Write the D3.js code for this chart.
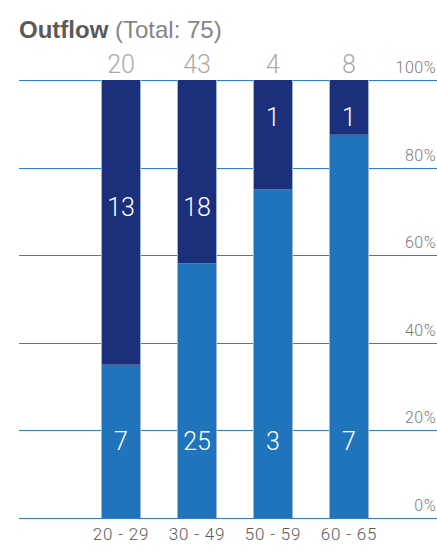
<!DOCTYPE html>
<html>
<head>
<meta charset="utf-8">
<script src="https://cdn.jsdelivr.net/npm/d3@7/dist/d3.min.js"></script>
<style>
  html, body { margin: 0; padding: 0; background: #fff; }
  svg { display: block; font-family: Roboto, "Liberation Sans", Arial, sans-serif; font-weight: 300; }
  .title { font-family: "Liberation Sans", Arial, sans-serif; }
</style>
</head>
<body>
<svg id="chart" width="437" height="546"></svg>
<script>
// Age groups and outflow counts per group
const categories = ["20 - 29", "30 - 49", "50 - 59", "60 - 65"];
const lowerValues = [7, 25, 3, 7];
const upperValues = [13, 18, 1, 1];
const totals = [20, 43, 4, 8];
const yTicks = [0, 0.2, 0.4, 0.6, 0.8, 1];
const titleBold = "Outflow";
const titleRest = " (Total: 75)";

const svg = d3.select("#chart");
const W = 437, H = 546;
const plotTop = 80, plotBottom = 518;

const x = d3.scaleBand().domain(categories).range([83, 387])
  .paddingInner(0.5).paddingOuter(0.25);
const y = d3.scaleLinear().domain([0, 1]).range([plotBottom, plotTop]);

const darkColor = "#1b2f7b";
const lightColor = "#1f74bc";
const gridColor = "#2f7fcb";

// Title
const title = svg.append("text").attr("class", "title").attr("x", 19).attr("y", 38)
  .style("font-size", "24px").attr("fill", "#5a5a5a");
title.append("tspan").style("font-weight", "bold").text(titleBold);
title.append("tspan").attr("fill", "#858585").style("font-weight", "normal").text(titleRest);

// Gridlines
svg.append("g").selectAll("line").data(yTicks).join("line")
  .attr("x1", 19).attr("x2", W)
  .attr("y1", d => Math.round(y(d)) + 0.5).attr("y2", d => Math.round(y(d)) + 0.5)
  .attr("stroke", gridColor).attr("stroke-width", 1);

// Percentage labels on the right
svg.append("g").selectAll("text").data(yTicks).join("text")
  .attr("x", 436).attr("y", d => y(d) - 7)
  .attr("text-anchor", "end").attr("font-size", 16).attr("fill", "#7a7a7a")
  .attr("letter-spacing", 0.5)
  .text(d => d3.format(".0%")(d));

const rows = categories.map((c, i) => {
  const total = lowerValues[i] + upperValues[i];
  return { c, low: lowerValues[i], up: upperValues[i], frac: lowerValues[i] / total, total: totals[i] };
});

const bars = svg.append("g");
// Lower segments
bars.selectAll("rect.low").data(rows).join("rect").attr("class", "low")
  .attr("x", d => x(d.c)).attr("width", x.bandwidth())
  .attr("y", d => y(d.frac)).attr("height", d => y(0) - y(d.frac))
  .attr("fill", lightColor);
// Upper segments
bars.selectAll("rect.up").data(rows).join("rect").attr("class", "up")
  .attr("x", d => x(d.c)).attr("width", x.bandwidth())
  .attr("y", y(1)).attr("height", d => y(d.frac) - y(1))
  .attr("fill", darkColor);
// Thin light edges on each bar
bars.selectAll("line.edge").data(rows.flatMap(d => [x(d.c) - 0.5, x(d.c) + x.bandwidth() + 0.5]))
  .join("line").attr("class", "edge")
  .attr("x1", d => d).attr("x2", d => d).attr("y1", y(1)).attr("y2", y(0))
  .attr("stroke", "#9fb3d9").attr("stroke-width", 1);

// Value labels inside bars
svg.append("g").selectAll("text").data(rows).join("text")
  .attr("x", d => x(d.c) + x.bandwidth() / 2).attr("y", y(0.175))
  .attr("dy", "0.35em").attr("text-anchor", "middle")
  .attr("font-size", 25).attr("fill", "#fff")
  .text(d => d.low);
svg.append("g").selectAll("text").data(rows).join("text")
  .attr("x", d => x(d.c) + x.bandwidth() / 2)
  .attr("y", d => y(d.frac < 0.6 ? 0.71 : 0.915))
  .attr("dy", "0.35em").attr("text-anchor", "middle")
  .attr("font-size", 25).attr("fill", "#fff")
  .text(d => d.up);

// Totals above bars
svg.append("g").selectAll("text").data(rows).join("text")
  .attr("x", d => x(d.c) + x.bandwidth() / 2).attr("y", 72.5)
  .attr("text-anchor", "middle").attr("font-size", 25).attr("fill", "#ababab")
  .text(d => d.total);

// Category labels
svg.append("g").selectAll("text").data(categories).join("text")
  .attr("x", d => x(d) + x.bandwidth() / 2).attr("y", 540)
  .attr("text-anchor", "middle").attr("font-size", 17).attr("fill", "#5a5a5a")
  .attr("letter-spacing", 0.8)
  .text(d => d);
</script>
</body>
</html>
